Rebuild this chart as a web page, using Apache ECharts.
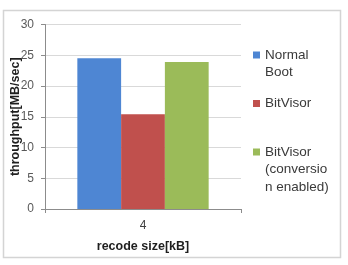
<!DOCTYPE html>
<html>
<head>
<meta charset="utf-8">
<script src="https://cdn.jsdelivr.net/npm/echarts@6/dist/echarts.min.js"></script>
<style>
  html, body { margin: 0; padding: 0; background: #fff; }
  #chart { width: 348px; height: 265px; }
</style>
</head>
<body>
<div id="chart"></div>
<script>
// data
const categories = ['4'];
const normalBoot = [24.5];
const bitVisor = [15.4];
const bitVisorConv = [23.9];
const seriesNames = ['Normal\nBoot', 'BitVisor', 'BitVisor\n(conversio\nn enabled)'];
const yTicks = { min: 0, max: 30, interval: 5 };

const chart = echarts.init(document.getElementById('chart'));
const font = 'Liberation Sans, Arial, sans-serif';
const lh = 17.5;

// one legend per item so the icon sits next to the first line:
// blank lines before the text push it down below the icon centre
function legendBlock(name, iconY) {
  const lines = name.split('\n').length;
  const total = 2 * lines - 1;
  return {
    orient: 'vertical',
    left: 253,
    top: iconY - total * lh / 2,
    padding: 0,
    itemWidth: 7,
    itemHeight: 7,
    icon: 'rect',
    data: [name],
    formatter: n => '\n'.repeat(lines - 1) + n,
    textStyle: {
      fontFamily: font,
      fontSize: 13.5,
      lineHeight: lh,
      color: '#3a3a3a'
    }
  };
}

const option = {
  backgroundColor: '#fff',
  animation: false,
  color: ['#4e86d3', '#c0504d', '#9bbb59'],
  grid: {
    left: 45,
    right: 107,
    top: 24.5,
    bottom: 56,
    outerBoundsMode: 'none'
  },
  graphic: [{
    type: 'rect',
    shape: { x: 3.5, y: 10.5, width: 337, height: 247 },
    style: { fill: null, stroke: '#d4d4d4', lineWidth: 1.5 },
    silent: true
  }],
  legend: [
    legendBlock(seriesNames[0], 55),
    legendBlock(seriesNames[1], 103.5),
    legendBlock(seriesNames[2], 152)
  ],
  xAxis: {
    type: 'category',
    data: categories,
    name: 'recode size[kB]',
    nameLocation: 'middle',
    nameGap: 31,
    nameTextStyle: {
      fontFamily: font,
      fontSize: 12.5,
      fontWeight: 'bold',
      color: '#1f1f1f'
    },
    axisLine: { lineStyle: { color: '#8c8c8c', width: 1 } },
    axisTick: { show: true, length: 4, lineStyle: { color: '#8c8c8c' } },
    axisLabel: {
      margin: 11,
      fontFamily: font,
      fontSize: 12,
      color: '#404040'
    }
  },
  yAxis: {
    type: 'value',
    min: yTicks.min,
    max: yTicks.max,
    interval: yTicks.interval,
    name: 'throughput[MB/sec]',
    nameLocation: 'middle',
    nameGap: 23,
    nameMoveOverlap: false,
    nameTextStyle: {
      fontFamily: font,
      fontSize: 12.5,
      fontWeight: 'bold',
      color: '#1f1f1f'
    },
    axisLine: { show: true, lineStyle: { color: '#8c8c8c', width: 1 } },
    axisTick: { show: true, length: 4, lineStyle: { color: '#8c8c8c' } },
    splitLine: { lineStyle: { color: '#d9d9d9', width: 1 } },
    axisLabel: {
      margin: 11,
      fontFamily: font,
      fontSize: 12,
      color: '#595959'
    }
  },
  series: [
    { name: seriesNames[0], type: 'bar', data: normalBoot, barGap: '0%', barCategoryGap: '33%' },
    { name: seriesNames[1], type: 'bar', data: bitVisor, barGap: '0%', barCategoryGap: '33%' },
    { name: seriesNames[2], type: 'bar', data: bitVisorConv, barGap: '0%', barCategoryGap: '33%' }
  ]
};

chart.setOption(option);
</script>
</body>
</html>
